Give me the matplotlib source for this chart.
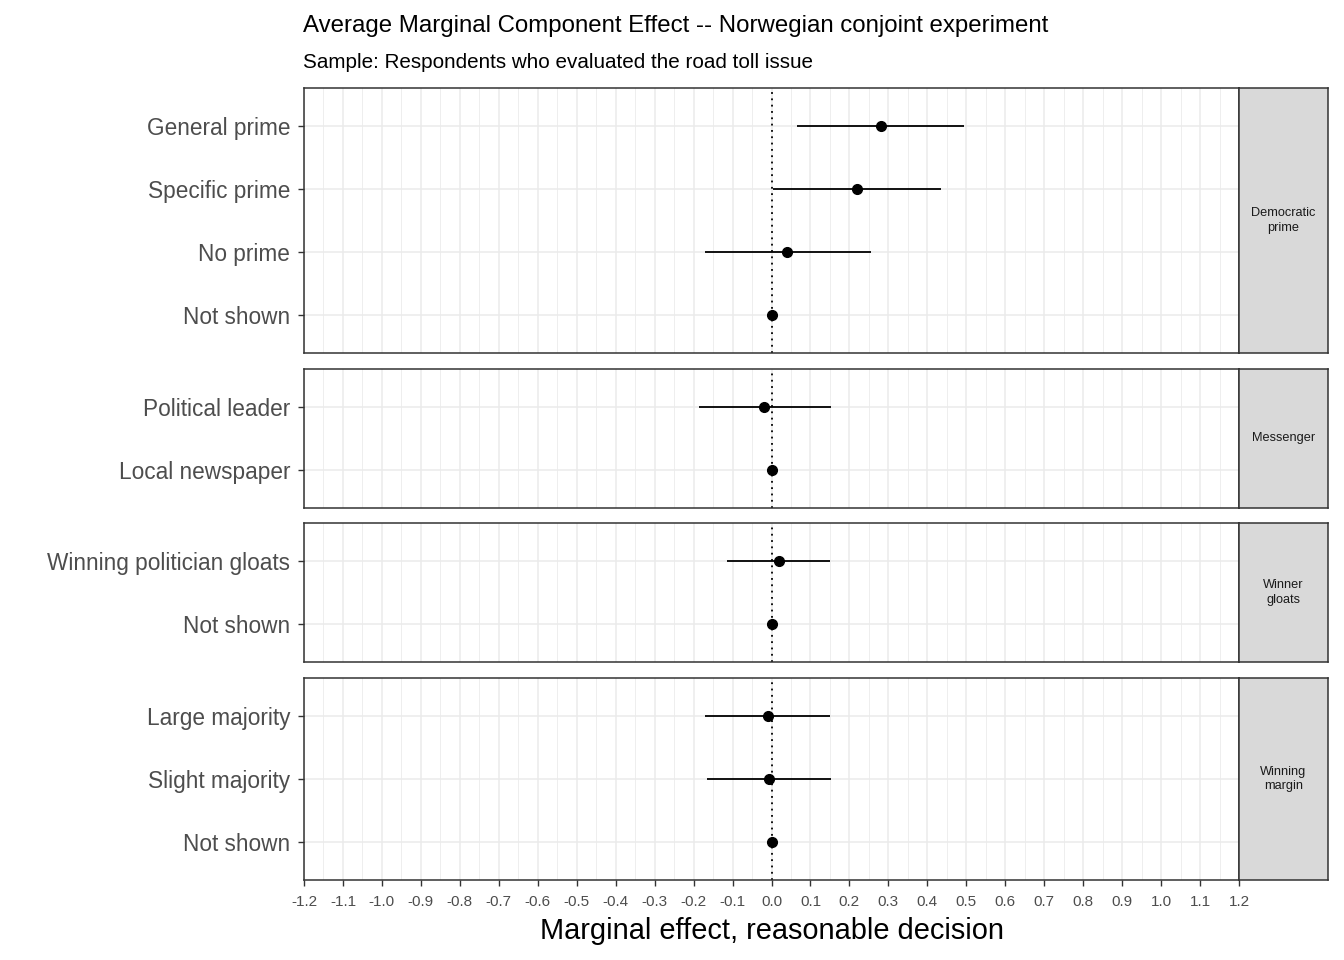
import numpy as np
import matplotlib.pyplot as plt

plt.rcParams['font.family'] = ['Liberation Sans', 'DejaVu Sans']

# Data (AMCE estimates and 95% intervals)
attributes = ['Democratic\nprime', 'Messenger', 'Winner\ngloats', 'Winning\nmargin']
levels = [
    ['General prime', 'Specific prime', 'No prime', 'Not shown'],
    ['Political leader', 'Local newspaper'],
    ['Winning politician gloats', 'Not shown'],
    ['Large majority', 'Slight majority', 'Not shown'],
]
estimates = [
    [0.281, 0.219, 0.041, 0.0],
    [-0.018, 0.0],
    [0.019, 0.0],
    [-0.010, -0.007, 0.0],
]
ci_low = [
    [0.066, 0.003, -0.170, 0.0],
    [-0.185, 0.0],
    [-0.114, 0.0],
    [-0.170, -0.165, 0.0],
]
ci_high = [
    [0.494, 0.436, 0.255, 0.0],
    [0.153, 0.0],
    [0.149, 0.0],
    [0.151, 0.153, 0.0],
]
x_ticks = np.arange(-12, 13) / 10

#layout in pixels
W, H = 1344, 960
left, right, strip_w = 304, 1239, 89
top, bottom, gap = 88, 880, 15.5
grey_txt = '#4D4D4D'
border = '#333333'

fig = plt.figure(figsize=(W / 100, H / 100), dpi=100)

sizes = [len(l) + 0.2 for l in levels]
unit = (bottom - top - gap * (len(levels) - 1)) / sum(sizes)

y0 = top
for k in range(len(levels)):
    n = len(levels[k])
    h = sizes[k] * unit
    rect = [left / W, 1 - (y0 + h) / H, (right - left) / W, h / H]
    ax = fig.add_axes(rect)
    ypos = np.arange(n)[::-1]

    #grid
    ax.set_xlim(-1.2, 1.2)
    ax.set_ylim(-0.6, n - 0.4)
    ax.set_xticks(x_ticks)
    ax.set_xticks(np.arange(-23, 24, 2) / 20, minor=True)
    ax.grid(which='major', color='#EBEBEB', lw=1.1)
    ax.grid(which='minor', axis='x', color='#EBEBEB', lw=0.6)
    ax.set_axisbelow(True)
    ax.set_yticks(ypos)
    ax.set_yticklabels(levels[k], fontsize=16.3, color=grey_txt)

    ax.axvline(0, color='black', ls=(0, (1, 2.5)), lw=1.3, zorder=2)
    ax.hlines(ypos, ci_low[k], ci_high[k], color='black', lw=1.3, zorder=3)
    ax.plot(estimates[k], ypos, 'o', color='black', ms=7, zorder=4)

    ax.tick_params(axis='both', which='major', length=4, color=border, width=1)
    ax.tick_params(axis='both', which='minor', length=0)
    ax.tick_params(axis='y', pad=6)
    if k == len(levels) - 1:
        ax.set_xticklabels([f'{t:.1f}' for t in x_ticks], fontsize=11, color=grey_txt)
        ax.tick_params(axis='x', pad=7)
    else:
        ax.tick_params(axis='x', length=0, labelbottom=False)
    for s in ax.spines.values():
        s.set_color(border)
        s.set_linewidth(1.1)

    #facet strip on the right
    sax = fig.add_axes([right / W, rect[1], strip_w / W, h / H])
    sax.set_facecolor('#D9D9D9')
    sax.set_xticks([])
    sax.set_yticks([])
    for s in sax.spines.values():
        s.set_color(border)
        s.set_linewidth(1.1)
    sax.text(0.5, 0.5, attributes[k], ha='center', va='center', fontsize=9.2,
             color='#1A1A1A', linespacing=1.3, transform=sax.transAxes)

    y0 += h + gap

fig.text((left + right) / 2 / W, 1 - 931 / H, 'Marginal effect, reasonable decision',
         ha='center', va='center', fontsize=20.9, color='black')
fig.text(303 / W, 1 - 26 / H,
         'Average Marginal Component Effect -- Norwegian conjoint experiment',
         ha='left', va='center', fontsize=17.3)
fig.text(303 / W, 1 - 62 / H, 'Sample: Respondents who evaluated the road toll issue',
         ha='left', va='center', fontsize=14.9)

plt.savefig('out.png', dpi=100)
